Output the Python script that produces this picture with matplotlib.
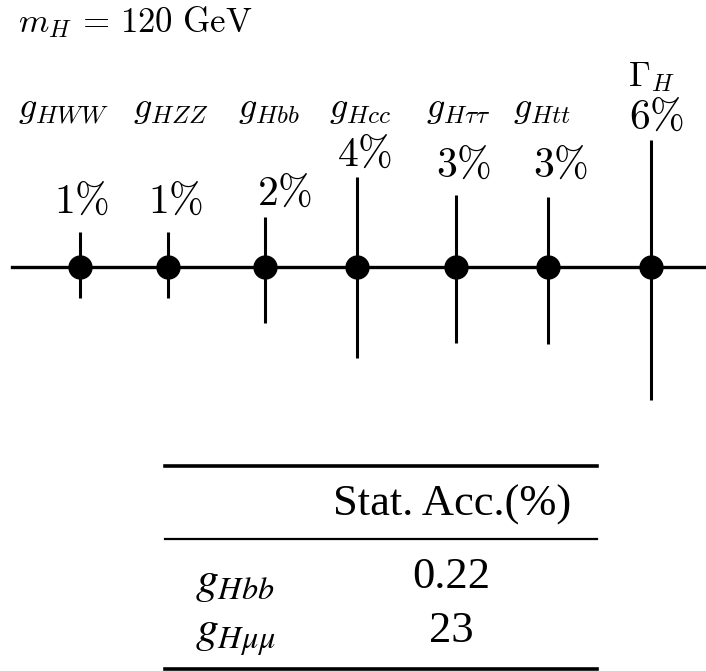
import matplotlib
matplotlib.use("Agg")
import matplotlib.pyplot as plt

# ---- data ----
couplings = [r"$g_{HWW}$", r"$g_{HZZ}$", r"$g_{Hbb}$", r"$g_{Hcc}$",
             r"$g_{H\tau\tau}$", r"$g_{Htt}$", r"$\Gamma_H$"]
precision_pct = [1, 1, 2, 4, 3, 3, 6]
# drawn bar extents (arbitrary units)
err_hi = [35, 35, 50, 90, 72, 70, 127]
err_lo = [31, 31, 56, 91, 76, 77, 133]
mass_label = r"$m_H\,=\,120\ \mathrm{GeV}$"

table_header = "Stat. Acc.(%)"
table_rows = [r"$g_{Hbb}$", r"$g_{H\mu\mu}$"]
table_values = ["0.22", "23"]

# ---- layout ----
xpos = [80, 168, 265, 357, 456, 548, 651]
name_x = [63, 171, 269, 360, 458, 542, 651]
name_y = [158, 158, 158, 158, 158, 158, 190]
pct_x = [82, 176, 285, 365, 464, 561, 657]
pct_y = [66, 66, 74, 113, 102, 102, 150]

plt.rcParams["mathtext.fontset"] = "cm"
fig = plt.figure(figsize=(7.06, 6.71), dpi=100)
ax = fig.add_axes([0, 0, 1, 1])
ax.set_xlim(0, 706)
ax.set_ylim(-404, 267)
ax.axis("off")

ax.axhline(0, xmin=12 / 706, xmax=1, color="black", lw=2.4, zorder=1)
ax.errorbar(xpos, [0] * len(xpos), yerr=[err_lo, err_hi], fmt="o",
            color="black", ms=16.5, elinewidth=2.2, capsize=0, zorder=3)

for i, (lab, p) in enumerate(zip(couplings, precision_pct)):
    ax.text(name_x[i], name_y[i], lab, ha="center", va="center",
            fontsize=26 if i < 6 else 25)
    ax.text(pct_x[i], pct_y[i], rf"${p}\%$", ha="center", va="center",
            fontsize=30)

ax.text(18, 245, mass_label, ha="left", va="center", fontsize=25)

# ---- table ----
tx0, tx1 = 165, 597
ax.plot([tx0, tx1], [-199, -199], color="black", lw=2.6)
ax.plot([tx0, tx1], [-272, -272], color="black", lw=1.6)
ax.plot([tx0, tx1], [-402, -402], color="black", lw=2.6)
ax.text(452, -238, table_header, ha="center", va="center", fontsize=32,
        fontfamily="Liberation Serif")
row_y = [-315, -369]
val_y = [-310, -364]
for y, vy, r, v in zip(row_y, val_y, table_rows, table_values):
    ax.text(235, y, r, ha="center", va="center", fontsize=33, math_fontfamily="stix")
    ax.text(451, vy, v, ha="center", va="center", fontsize=32,
            fontfamily="Liberation Serif")

fig.savefig("out.png", dpi=100)
